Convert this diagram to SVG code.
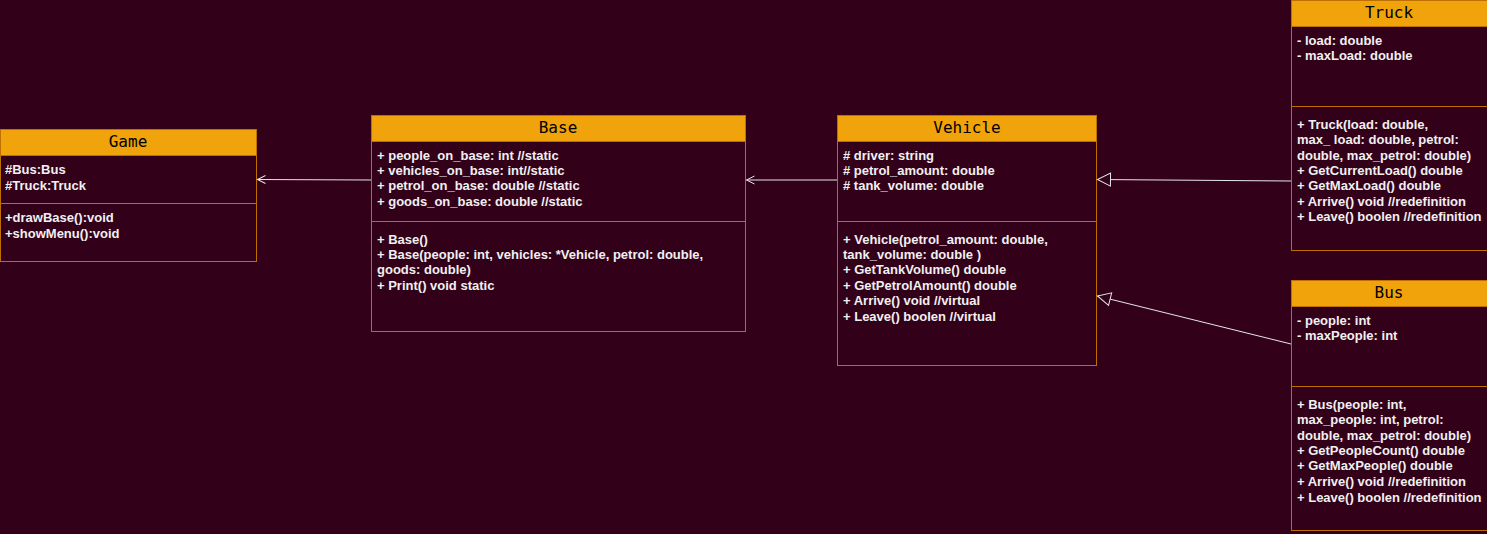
<svg xmlns="http://www.w3.org/2000/svg" width="1487" height="534" viewBox="0 0 1487 534">
<defs>
<style>
.box{fill:#33001a;stroke:#bd7000;stroke-width:1}
.hdr{fill:#f0a30a;stroke:#bd7000;stroke-width:1}
.sep{stroke:#bd7000;stroke-width:1}
.title{font-family:"DejaVu Sans Mono",monospace;font-size:16px;fill:#000000;text-anchor:middle}
.t{font-family:"Liberation Sans",Arial,sans-serif;font-size:13px;font-weight:bold;fill:#f0f0f0}
.edge{stroke:#e6e6e6;stroke-width:1;fill:none}
</style>
<marker id="open" markerWidth="12" markerHeight="12" refX="10" refY="6" orient="auto" markerUnits="userSpaceOnUse">
<path d="M2,2 L10,6 L2,10" fill="none" stroke="#e6e6e6" stroke-width="1"/>
</marker>
<marker id="tri" markerWidth="16" markerHeight="16" refX="14" refY="8" orient="auto" markerUnits="userSpaceOnUse">
<path d="M1,1.5 L14,8 L1,14.5 Z" fill="#33001a" stroke="#e6e6e6" stroke-width="1"/>
</marker>
</defs>
<rect width="1487" height="534" fill="#33001a"/>
<g id="Game">
<rect class="box" x="0.5" y="129.5" width="256" height="132"/>
<rect class="hdr" x="0.5" y="129.5" width="256" height="26"/>
<text class="title" x="128" y="147">Game</text>
<text class="t" x="5" y="174">#Bus:Bus</text>
<text class="t" x="5" y="190">#Truck:Truck</text>
<line class="sep" x1="0.5" y1="203.5" x2="256.5" y2="203.5"/>
<text class="t" x="5" y="222">+drawBase():void</text>
<text class="t" x="5" y="238">+showMenu():void</text>
</g>
<g id="Base">
<rect class="box" x="371.5" y="115.5" width="374" height="216"/>
<rect class="hdr" x="371.5" y="115.5" width="374" height="26"/>
<text class="title" x="558" y="133">Base</text>
<text class="t" x="377" y="160">+ people_on_base: int //static</text>
<text class="t" x="377" y="175">+ vehicles_on_base: int//static</text>
<text class="t" x="377" y="190">+ petrol_on_base: double //static</text>
<text class="t" x="377" y="206">+ goods_on_base: double //static</text>
<line class="sep" x1="371.5" y1="221.5" x2="745.5" y2="221.5"/>
<text class="t" x="377" y="244">+ Base()</text>
<text class="t" x="377" y="259">+ Base(people: int, vehicles: *Vehicle, petrol: double,</text>
<text class="t" x="377" y="274">goods: double)</text>
<text class="t" x="377" y="290">+ Print() void static</text>
</g>
<g id="Vehicle">
<rect class="box" x="837.5" y="115.5" width="259" height="250"/>
<rect class="hdr" x="837.5" y="115.5" width="259" height="26"/>
<text class="title" x="967" y="133">Vehicle</text>
<text class="t" x="843" y="160"># driver: string</text>
<text class="t" x="843" y="175"># petrol_amount: double</text>
<text class="t" x="843" y="190"># tank_volume: double</text>
<line class="sep" x1="837.5" y1="221.5" x2="1096.5" y2="221.5"/>
<text class="t" x="843" y="244">+ Vehicle(petrol_amount: double,</text>
<text class="t" x="843" y="259">tank_volume: double )</text>
<text class="t" x="843" y="274">+ GetTankVolume() double</text>
<text class="t" x="843" y="290">+ GetPetrolAmount() double</text>
<text class="t" x="843" y="305">+ Arrive() void //virtual</text>
<text class="t" x="843" y="321">+ Leave() boolen //virtual</text>
</g>
<g id="Truck">
<rect class="box" x="1291.5" y="0.5" width="196" height="250"/>
<rect class="hdr" x="1291.5" y="0.5" width="196" height="26"/>
<text class="title" x="1389" y="18">Truck</text>
<text class="t" x="1297" y="45">- load: double</text>
<text class="t" x="1297" y="60">- maxLoad: double</text>
<line class="sep" x1="1291.5" y1="106.5" x2="1487" y2="106.5"/>
<text class="t" x="1297" y="129">+ Truck(load: double,</text>
<text class="t" x="1297" y="144">max_ load: double, petrol:</text>
<text class="t" x="1297" y="160">double, max_petrol: double)</text>
<text class="t" x="1297" y="175">+ GetCurrentLoad() double</text>
<text class="t" x="1297" y="190">+ GetMaxLoad() double</text>
<text class="t" x="1297" y="206">+ Arrive() void //redefinition</text>
<text class="t" x="1297" y="221">+ Leave() boolen //redefinition</text>
</g>
<g id="Bus">
<rect class="box" x="1291.5" y="280.5" width="196" height="250"/>
<rect class="hdr" x="1291.5" y="280.5" width="196" height="26"/>
<text class="title" x="1389" y="298">Bus</text>
<text class="t" x="1297" y="325">- people: int</text>
<text class="t" x="1297" y="340">- maxPeople: int</text>
<line class="sep" x1="1291.5" y1="386.5" x2="1487" y2="386.5"/>
<text class="t" x="1297" y="409">+ Bus(people: int,</text>
<text class="t" x="1297" y="424">max_people: int, petrol:</text>
<text class="t" x="1297" y="440">double, max_petrol: double)</text>
<text class="t" x="1297" y="455">+ GetPeopleCount() double</text>
<text class="t" x="1297" y="470">+ GetMaxPeople() double</text>
<text class="t" x="1297" y="486">+ Arrive() void //redefinition</text>
<text class="t" x="1297" y="502">+ Leave() boolen //redefinition</text>
</g>
<g id="connectors">
<line class="edge" x1="371" y1="180" x2="257.5" y2="179.5" marker-end="url(#open)"/>
<line class="edge" x1="837" y1="180" x2="746.5" y2="180" marker-end="url(#open)"/>
<line class="edge" x1="1291" y1="181" x2="1097.5" y2="179.5" marker-end="url(#tri)"/>
<line class="edge" x1="1291" y1="344" x2="1097.5" y2="296" marker-end="url(#tri)"/>
</g>
</svg>
